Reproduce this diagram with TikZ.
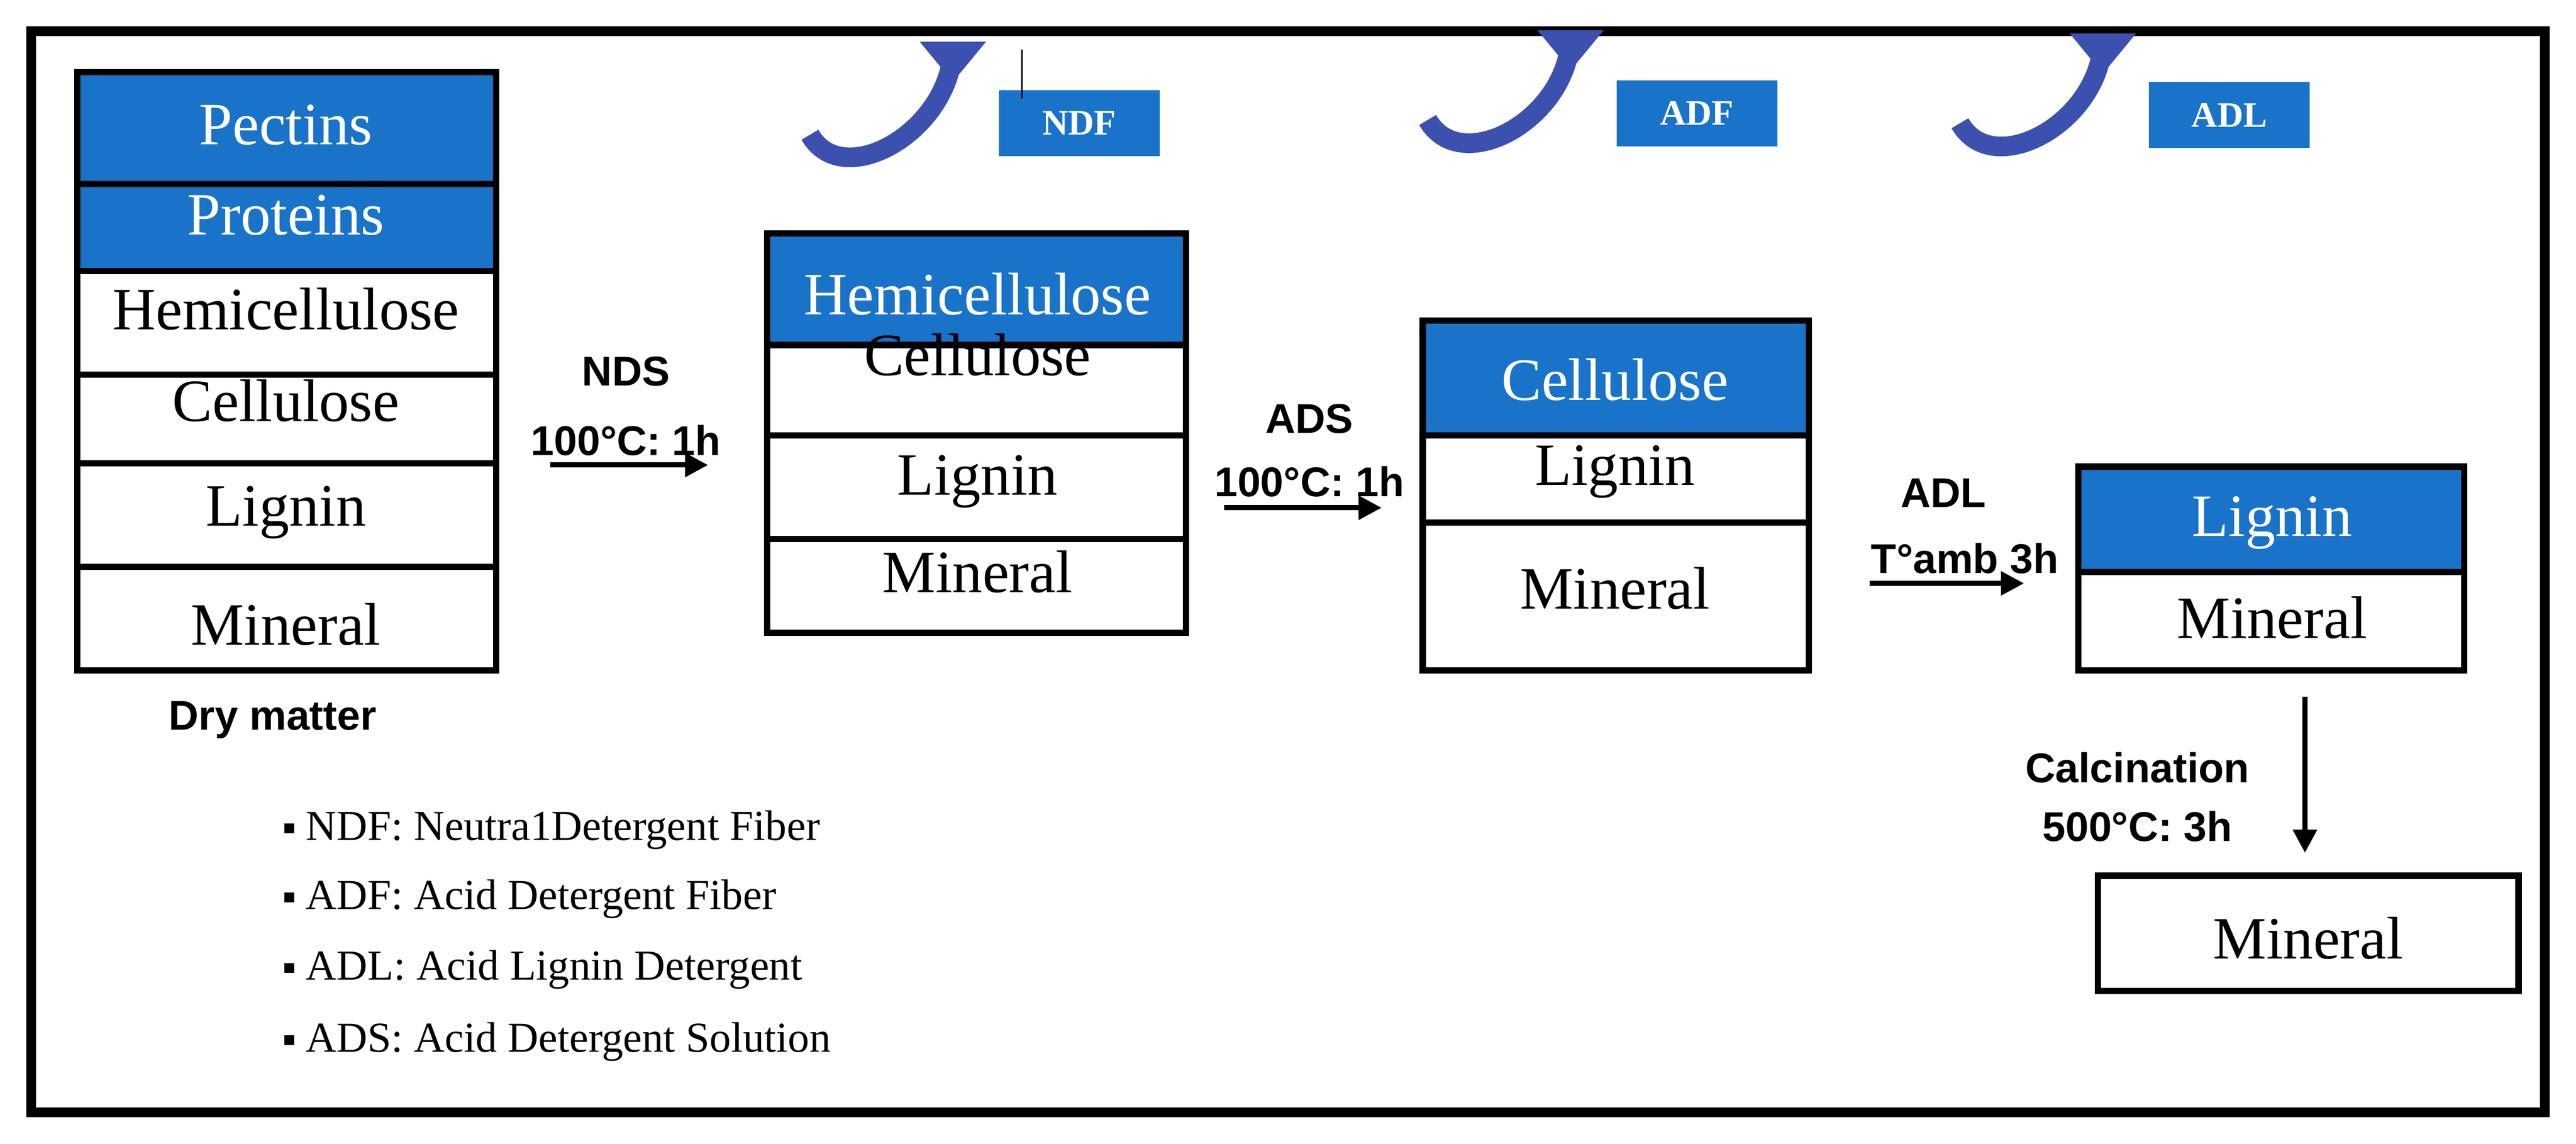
\documentclass[tikz,border=0pt]{standalone}
\usepackage{fontspec}
\setmainfont{Liberation Serif}
\newfontfamily\sans{Liberation Sans}
\usetikzlibrary{arrows.meta}
\definecolor{boxblue}{RGB}{25,115,200}
\definecolor{arrblue}{RGB}{60,80,175}
\definecolor{arrdark}{RGB}{35,40,130}
\begin{document}
\begin{tikzpicture}[x=0.1cm,y=-0.1cm,
  cell/.style={draw=black,line width=11pt},
  blue/.style={cell,fill=boxblue},
  txt/.style={font=\fontsize{104}{110}\selectfont},
  wtxt/.style={txt,text=white},
  lab/.style={font=\sans\bfseries\fontsize{72}{76}\selectfont},
  leg/.style={anchor=west,font=\fontsize{74}{80}\selectfont},
  flow/.style={line width=9pt,-{Triangle[length=40pt,width=40pt]}},
  tag/.style={fill=boxblue,text=white,font=\bfseries\fontsize{62}{66}\selectfont,minimum width=98*2.845pt,minimum height=40*2.845pt,inner sep=0pt},
  curl/.style={line width=34pt,arrblue,-{Triangle[length=70pt,width=110pt]}}]
\useasboundingbox (0,0) rectangle (1568,696);
\fill[white] (0,0) rectangle (1568,696);
\draw[line width=17pt] (19,19) rectangle (1549,677);
% Box 1
\draw[blue] (47,44) rectangle (302,112);
\draw[blue] (47,112) rectangle (302,165);
\draw[cell] (47,165) rectangle (302,228);
\draw[cell] (47,228) rectangle (302,282);
\draw[cell] (47,282) rectangle (302,345);
\draw[cell] (47,345) rectangle (302,408);
\node[wtxt] (pec) at (174,76) {Pectins};
\node[wtxt] (pro) at (174,131) {Proteins};
\node[txt] (hem1) at (174,188) {Hemicellulose};
\node[txt] (cel1) at (174,244) {Cellulose};
\node[txt] (lig1) at (174,312) {Lignin};
\node[txt] (min1) at (174,380) {Mineral};
\node[lab] (dry) at (166,438) {Dry matter};
% NDS
\node[lab] (nds) at (381,226) {NDS};
\node[lab] (nds2) at (381,268) {100°C: 1h};
\coordinate (a1s) at (335,283); \coordinate (a1e) at (431,283);
\draw[flow] (a1s) -- (a1e);
% Box 2
\draw[blue] (467,142) rectangle (722,210);
\draw[cell] (467,210) rectangle (722,265);
\draw[cell] (467,265) rectangle (722,328);
\draw[cell] (467,328) rectangle (722,385);
\node[wtxt] (hem2) at (595,179) {Hemicellulose};
\node[txt] (cel2) at (595,216) {Cellulose};
\node[txt] (lig2) at (595,293) {Lignin};
\node[txt] (min2) at (595,348) {Mineral};
% ADS
\node[lab] (ads) at (797,255) {ADS};
\node[lab] (ads2) at (797,293) {100°C: 1h};
\coordinate (a2s) at (745,309); \coordinate (a2e) at (841,309);
\draw[flow] (a2s) -- (a2e);
% Box 3
\draw[blue] (866,195) rectangle (1101,265);
\draw[cell] (866,265) rectangle (1101,318);
\draw[cell] (866,318) rectangle (1101,408);
\node[wtxt] (cel3) at (983,231) {Cellulose};
\node[txt] (lig3) at (983,287) {Lignin};
\node[txt] (min3) at (983,358) {Mineral};
% ADL
\node[lab] (adl) at (1183,300) {ADL};
\node[lab] (adl2) at (1196,340) {T°amb 3h};
\coordinate (a3s) at (1138,355); \coordinate (a3e) at (1232,355);
\draw[flow] (a3s) -- (a3e);
% Box 4
\draw[blue] (1265,284) rectangle (1500,348);
\draw[cell] (1265,348) rectangle (1500,408);
\node[wtxt] (lig4) at (1383,318) {Lignin};
\node[txt] (min4) at (1383,376) {Mineral};
% Calcination
\coordinate (a4s) at (1403,424); \coordinate (a4e) at (1403,519);
\draw[flow] (a4s) -- (a4e);
\node[lab] (cal) at (1301,467) {Calcination};
\node[lab] (cal2) at (1301,503) {500°C: 3h};
\draw[cell] (1277,533) rectangle (1533,603);
\node[txt] (min5) at (1405,571) {Mineral};
% Legend
\foreach \yy/\t [count=\i] in {505/{NDF: Neutra1Detergent Fiber},547/{ADF: Acid Detergent Fiber},590/{ADL: Acid Lignin Detergent},634/{ADS: Acid Detergent Solution}}{
  \fill (173,\yy-4) rectangle (179,\yy+2);
  \node[leg] (leg\i) at (185,\yy) {\t};
}
% Tags and curled arrows
\node[tag] (ndf) at (657,75) {NDF};
\node[tag] (adf) at (1033,69) {ADF};
\node[tag] (adlt) at (1357,70) {ADL};
\coordinate (c1s) at (493,82); \coordinate (c1e) at (580,50);
\coordinate (c2s) at (869,73); \coordinate (c2e) at (956,43);
\coordinate (c3s) at (1193,75); \coordinate (c3e) at (1280,45);
\foreach \s/\e in {c1s/c1e,c2s/c2e,c3s/c3e}{
  \draw[curl] (\s) .. controls ++(20,35) and ++(-2,50) .. ([yshift=20*2.845pt]\e) -- (\e);
}
\coordinate (tk1) at (622,30); \coordinate (tk2) at (622,60);
\draw[line width=2pt] (tk1) -- (tk2);
\end{tikzpicture}
\end{document}
